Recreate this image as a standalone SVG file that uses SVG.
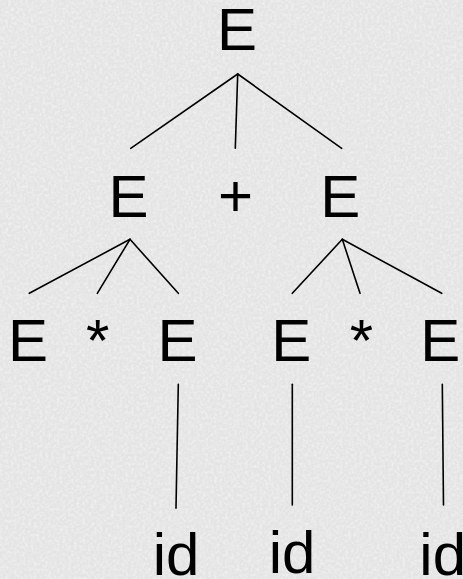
<svg xmlns="http://www.w3.org/2000/svg" width="463" height="579" viewBox="0 0 463 579">
  <style>
    .t { font-family: "Liberation Sans", Arial, sans-serif; font-size: 60px; fill: #000; }
    .c line { stroke: #000; stroke-width: 1.6; stroke-linecap: round; }
  </style>
  <defs>
    <filter id="tex" x="0" y="0" width="100%" height="100%">
      <feTurbulence type="fractalNoise" baseFrequency="0.35" numOctaves="3" seed="4" result="n"/>
      <feColorMatrix type="matrix" values="0 0 0 0 1  0 0 0 0 1  0 0 0 0 1  0.9 0 0 0 -0.35" result="w"/>
      <feComposite in="w" in2="SourceGraphic" operator="over"/>
    </filter>
  </defs>
  <rect width="463" height="579" fill="#e4e4e4" filter="url(#tex)"/>

  <g class="c" id="connectors">
    <line x1="237.7" y1="74" x2="130.7" y2="148.3"/>
    <line x1="237.7" y1="74" x2="235.3" y2="148.3"/>
    <line x1="237.7" y1="74" x2="341.7" y2="148.3"/>
    <line x1="130" y1="239.3" x2="29.3" y2="293.3"/>
    <line x1="130" y1="239.3" x2="97.3" y2="293.3"/>
    <line x1="130" y1="239.3" x2="178.3" y2="293.3"/>
    <line x1="342.3" y1="239.3" x2="292.3" y2="293.3"/>
    <line x1="342.3" y1="239.3" x2="360" y2="293.3"/>
    <line x1="342.3" y1="239.3" x2="441.7" y2="293.3"/>
    <line x1="178.3" y1="384.3" x2="176" y2="508.3"/>
    <line x1="292.3" y1="384.3" x2="292.3" y2="505"/>
    <line x1="442.3" y1="384.3" x2="443.5" y2="505"/>
  </g>

  <g id="root"><text class="t" x="217" y="50">E</text></g>
  <g id="e-left"><text class="t" x="108.6" y="216.7">E</text></g>
  <g id="plus"><text class="t" x="218" y="215.8">+</text></g>
  <g id="e-right"><text class="t" x="320.3" y="216.7">E</text></g>
  <g id="e-ll"><text class="t" x="8" y="361">E</text></g>
  <g id="star-l"><text class="t" x="86" y="361">*</text></g>
  <g id="e-lr"><text class="t" x="157.6" y="361">E</text></g>
  <g id="e-rl"><text class="t" x="271.3" y="361">E</text></g>
  <g id="star-r"><text class="t" x="349.7" y="361">*</text></g>
  <g id="e-rr"><text class="t" x="420.3" y="361">E</text></g>
  <g id="id-1"><text class="t" x="152.7" y="575">id</text></g>
  <g id="id-2"><text class="t" x="268.7" y="573">id</text></g>
  <g id="id-3"><text class="t" x="419.3" y="575">id</text></g>
</svg>
